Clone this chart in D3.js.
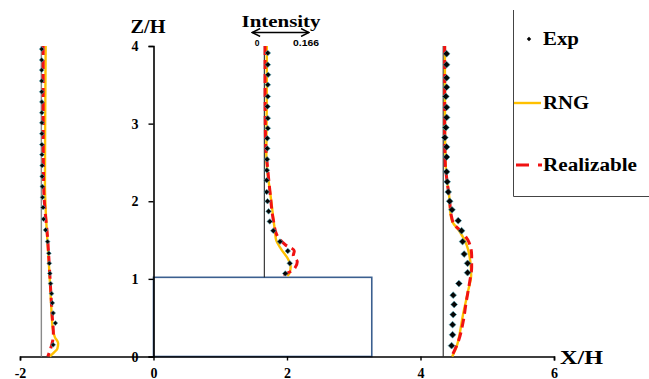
<!DOCTYPE html>
<html><head><meta charset="utf-8">
<script src="https://cdn.jsdelivr.net/npm/d3@7"></script>
<style>body{margin:0;background:#fff}svg{display:block}</style>
</head><body>
<svg id="c" width="649" height="379"></svg>
<script>
// ---- data ----
const xTicks = [-2, 0, 2, 4, 6];
const zTicks = [0, 1, 2, 3, 4];
const stations = [-1.68, 1.66, 4.34];          // X/H of profile baselines
const building = {x0: 0, x1: 3.27, h: 1.02};
const intensityRef = 0.166;                      // arrow label
// profile values: [Z/H, intensity]
const exp1 = [[3.96,0.001],[3.82,0.001],[3.69,0.001],[3.55,0.001],[3.41,0.001],[3.28,0.0015],[3.14,0.0015],[3.01,0.0015],[2.87,0.0015],[2.73,0.0015],[2.60,0.0018],[2.46,0.0023],[2.32,0.0023],[2.19,0.003],[2.05,0.0035],[1.92,0.005],[1.77,0.0064],[1.63,0.0123],[1.48,0.0182],[1.33,0.022],[1.20,0.0234],[1.07,0.0249],[0.94,0.027],[0.81,0.0299],[0.69,0.0322],[0.56,0.0346],[0.43,0.041],[0.15,0.0346]];
const rng1 = [[4.0,0.0126],[3.0,0.0111],[2.2,0.0105],[2.0,0.0117],[1.6,0.0161],[1.2,0.022],[0.8,0.0272],[0.5,0.0308],[0.35,0.0337],[0.25,0.0396],[0.17,0.0492],[0.1,0.0469],[0.05,0.0366],[0.0,0.0249]];
const real1 = [[4.0,0.0053],[3.0,0.0053],[2.2,0.0067],[1.9,0.0103],[1.6,0.017],[1.2,0.0229],[0.8,0.0281],[0.5,0.0322],[0.3,0.0352],[0.2,0.0331],[0.1,0.027],[0.0,0.019]];
const exp2 = [[3.91,0.0103],[3.76,0.0103],[3.63,0.0111],[3.50,0.0103],[3.35,0.0103],[3.22,0.0094],[3.07,0.0103],[2.94,0.0103],[2.81,0.0088],[2.68,0.0088],[2.54,0.0082],[2.40,0.0076],[2.27,0.007],[2.12,0.007],[2.00,0.0094],[1.87,0.0126],[1.74,0.0161],[1.62,0.0264],[1.48,0.046],[1.36,0.0689],[1.20,0.0747],[1.07,0.0615]];
const rng2 = [[4.0,0.0073],[3.5,0.0073],[3.0,0.0067],[2.6,0.0059],[2.4,0.0085],[2.2,0.0145],[2.0,0.0205],[1.78,0.0264],[1.6,0.0316],[1.5,0.0346],[1.38,0.0498],[1.25,0.0703],[1.16,0.0774],[1.07,0.0733],[1.04,0.0674]];
const real2 = [[4.0,0.0023],[3.5,0.0023],[3.0,0.0029],[2.7,0.0044],[2.47,0.0088],[2.12,0.0167],[1.76,0.0264],[1.57,0.0363],[1.44,0.0615],[1.36,0.0879],[1.30,0.085],[1.22,0.0967],[1.13,0.0879],[1.05,0.0557]];
const exp3 = [[3.90,0.010],[3.76,0.010],[3.59,0.010],[3.47,0.010],[3.35,0.0079],[3.21,0.010],[3.08,0.010],[2.95,0.0079],[2.82,0.005],[2.70,0.010],[2.57,0.010],[2.38,0.010],[2.25,0.0117],[2.12,0.0147],[2.00,0.019],[1.89,0.0258],[1.75,0.044],[1.62,0.0539],[1.48,0.0568],[1.32,0.0615],[1.20,0.0715],[1.08,0.0715],[0.94,0.046],[0.79,0.0293],[0.67,0.0322],[0.54,0.0293],[0.41,0.0275],[0.28,0.0275],[0.14,0.0246]];
const rng3 = [[4.0,0.005],[3.0,0.0053],[2.5,0.007],[2.25,0.0117],[2.04,0.0182],[1.85,0.0211],[1.74,0.0264],[1.61,0.0483],[1.44,0.0686],[1.24,0.0791],[1.05,0.082],[0.85,0.0733],[0.55,0.0586],[0.23,0.0454],[0.13,0.0396],[0.0,0.0264]];
const real3 = [[4.0,0.0044],[3.0,0.0044],[2.5,0.0059],[2.2,0.0132],[2.0,0.019],[1.80,0.0246],[1.70,0.0322],[1.60,0.0557],[1.48,0.0747],[1.30,0.0835],[1.15,0.0835],[0.96,0.0776],[0.7,0.0674],[0.45,0.0586],[0.19,0.044],[0.0,0.0246]];
const seriesNames = ["Exp", "RNG", "Realizable"];

// ---- drawing ----
const svg = d3.select("#c");
const x = d3.scaleLinear().domain([-2, 6]).range([20, 554]);
const y = d3.scaleLinear().domain([0, 4]).range([356.5, 46]);
const kInt = 0.848 / intensityRef;   // X/H per unit intensity
const serif = "'Liberation Serif','Times New Roman',serif";
const sans = "'Liberation Sans',Arial,sans-serif";
const RNGc = "#FFC000", REALc = "#F01212", BOXc = "#3B5F8F";

const profiles = [
  {base: stations[0], exp: exp1, rng: rng1, real: real1, z0: 0, baseColor: "#8a8a8a", bw: 1.4, ms: 2.4},
  {base: stations[1], exp: exp2, rng: rng2, real: real2, z0: building.h, baseColor: "#111", bw: 1, ms: 2.8},
  {base: stations[2], exp: exp3, rng: rng3, real: real3, z0: 0, baseColor: "#111", bw: 1, ms: 3.4}
];

function label(sel, txt, px, py, size, width, anchor) {
  const t = sel.append("text").attr("x", px).attr("y", py).text(txt)
    .attr("font-family", serif).attr("font-weight", "bold").attr("font-size", size)
    .attr("text-anchor", anchor || "start").attr("fill", "#000");
  if (width) t.attr("textLength", width).attr("lengthAdjust", "spacingAndGlyphs");
  return t;
}

// building
svg.append("rect")
  .attr("x", x(building.x0)).attr("y", y(building.h))
  .attr("width", x(building.x1) - x(building.x0)).attr("height", y(0) - y(building.h))
  .attr("fill", "none").attr("stroke", BOXc).attr("stroke-width", 1.6);

// axes
const fmt = d => (d < 0 ? "-" + Math.abs(d) : String(d));
const gx = svg.append("g").attr("transform", `translate(0,${y(0)})`)
  .call(d3.axisBottom(x).tickValues(xTicks).tickSize(4).tickFormat(fmt));
const gy = svg.append("g").attr("transform", `translate(${x(0)},0)`)
  .call(d3.axisLeft(y).tickValues(zTicks).tickSize(5).tickPadding(10).tickFormat(fmt));
[gx, gy].forEach(g => {
  g.select(".domain").attr("stroke", "#000").attr("stroke-width", 1.6);
  g.selectAll(".tick line").attr("stroke", "#000").attr("stroke-width", 1.4);
  g.selectAll(".tick text").attr("font-family", serif).attr("font-weight", "bold")
    .attr("font-size", 14).attr("fill", "#000");
});
gx.selectAll(".tick text").attr("y", 21).attr("dy", 0);
gy.selectAll(".tick text").attr("dy", "0.33em");

label(svg, "X/H", 560, 364, 18, 43);
label(svg, "Z/H", 148, 33, 18, 35, "middle");

// intensity scale arrow
const ax0 = x(stations[1]) - 12, ax1 = ax0 + (x(kInt * intensityRef) - x(0));
svg.append("defs").html(
  `<marker id="ah" viewBox="0 0 10 10" refX="9" refY="5" markerWidth="7" markerHeight="7" orient="auto-start-reverse">
     <path d="M1,1 L9,5 L1,9" fill="none" stroke="#000" stroke-width="1.6"/></marker>`);
svg.append("line").attr("x1", ax0).attr("x2", ax1).attr("y1", 32.5).attr("y2", 32.5)
  .attr("stroke", "#000").attr("stroke-width", 1.4)
  .attr("marker-start", "url(#ah)").attr("marker-end", "url(#ah)");
label(svg, "Intensity", 281, 26.5, 17, 79, "middle");
svg.append("text").attr("x", 257).attr("y", 46).attr("text-anchor", "middle").text("0")
  .attr("font-family", sans).attr("font-weight", "bold").attr("font-size", 8.5);
svg.append("text").attr("x", 306).attr("y", 46).attr("text-anchor", "middle").text(String(intensityRef))
  .attr("font-family", sans).attr("font-weight", "bold").attr("font-size", 8.5)
  .attr("textLength", 26).attr("lengthAdjust", "spacingAndGlyphs");

// profiles
const line = base => d3.line().x(d => x(base + d[1] * kInt)).y(d => y(d[0])).curve(d3.curveMonotoneY);
const diamondPath = s => `M0,${-s}L${s},0L0,${s}L${-s},0Z`;
profiles.forEach(p => {
  svg.append("line").attr("x1", x(p.base)).attr("x2", x(p.base))
    .attr("y1", y(p.z0)).attr("y2", y(4)).attr("stroke", p.baseColor).attr("stroke-width", p.bw);
  svg.append("path").datum(p.rng).attr("d", line(p.base))
    .attr("fill", "none").attr("stroke", RNGc).attr("stroke-width", 2.4);
  svg.append("path").datum(p.real).attr("d", line(p.base))
    .attr("fill", "none").attr("stroke", REALc).attr("stroke-width", 3).attr("stroke-dasharray", "9,5");
  svg.append("g").selectAll("path").data(p.exp).join("path")
    .attr("d", diamondPath(p.ms))
    .attr("transform", d => `translate(${x(p.base + d[1] * kInt)},${y(d[0])})`)
    .attr("fill", "#050505").attr("stroke", "#4aa8b8").attr("stroke-width", 0.6);
});

// legend
const lg = svg.append("g");
lg.append("path").attr("d", "M513.5,10 V196.5 H649").attr("fill", "none").attr("stroke", "#444").attr("stroke-width", 1);
const legY = [39, 103, 165];
lg.append("path").attr("d", diamondPath(2.2)).attr("transform", `translate(529,${legY[0]})`).attr("fill", "#000");
lg.append("line").attr("x1", 514).attr("x2", 541).attr("y1", legY[1]).attr("y2", legY[1])
  .attr("stroke", RNGc).attr("stroke-width", 2.4);
lg.append("line").attr("x1", 516).attr("x2", 542).attr("y1", legY[2]).attr("y2", legY[2])
  .attr("stroke", REALc).attr("stroke-width", 3).attr("stroke-dasharray", "13,9");
const legW = [36, 46, 94];
const legBase = [45, 108.5, 170.5];
seriesNames.forEach((n, i) => label(lg, n, 543, legBase[i], 18, legW[i]));
</script>
</body></html>
